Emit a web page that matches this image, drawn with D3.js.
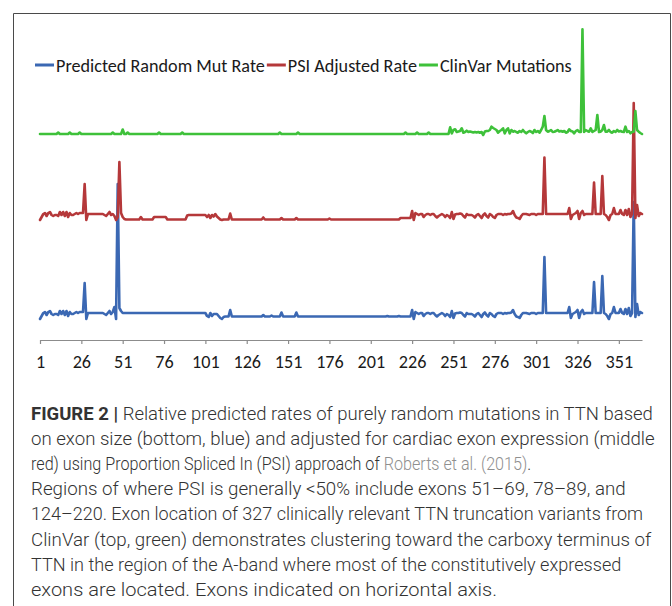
<!DOCTYPE html>
<html>
<head>
<meta charset="utf-8">
<script src="https://cdn.jsdelivr.net/npm/d3@7/dist/d3.min.js"></script>
<style>
  html, body { margin: 0; padding: 0; background: #fff; }
  svg { display: block; }
</style>
</head>
<body>
<div id="chart"></div>
<script>
// Exon ticks on the horizontal axis
const exonTicks = [1, 26, 51, 76, 101, 126, 151, 176, 201, 226, 251, 276, 301, 326, 351];
const exonCount = 365;

const seriesNames = ["Predicted Random Mut Rate", "PSI Adjusted Rate", "ClinVar Mutations"];
const seriesColors = ["#3b68b3", "#b5383a", "#3ec13a"];

// Relative rates per exon (stacked offsets as in the figure)
const predictedRate = [
  2.1,2.4,2.7,2.8,2.5, 2.8,2.9,2.6,2.5,2.6, 2.6,2.5,2.9,2.6,2.9, 2.5,2.9,2.4,2.8,2.6, 2.6,2.7,2.8,2.7,2.8,
  2.8,2.8,5.7,2.1,2.7, 2.7,2.7,2.7,2.7,2.7, 2.7,2.7,2.7,2.7,2.6, 2.5,2.7,2.9,2.6,2.8, 3.3,2.1,15.6,3.2,2.9,
  2.7,2.7,2.7,2.7,2.7, 2.7,2.7,2.7,2.7,2.7, 2.7,2.7,2.7,2.7,2.7, 2.7,2.7,2.7,2.7,2.7, 2.7,2.7,2.7,2.7,2.7,
  2.7,2.7,2.7,2.7,2.7, 2.7,2.7,2.7,2.7,2.7, 2.7,2.7,2.7,2.7,2.7, 2.7,2.7,2.7,2.7,2.7, 2.7,2.7,2.7,2.7,2.7,
  2.7,2.4,2.3,2.7,2.4, 2.6,2.6,2.6,2.4,2.2, 2.1,2.3,2.35,2.35,2.35, 3.0,2.35,2.35,2.35,2.35, 2.35,2.35,2.35,2.35,2.35,
  2.35,2.35,2.35,2.35,2.35, 2.35,2.35,2.35,2.35,2.35, 2.5,2.35,2.35,2.35,2.35, 2.45,2.35,2.35,2.35,2.35, 2.35,2.75,2.35,2.35,2.35,
  2.35,2.35,2.35,2.35,2.35, 2.75,2.35,2.35,2.35,2.35, 2.35,2.35,2.35,2.35,2.35, 2.35,2.35,2.35,2.35,2.35, 2.35,2.35,2.35,2.35,2.35,
  2.35,2.35,2.35,2.35,2.35, 2.35,2.35,2.35,2.35,2.35, 2.35,2.35,2.35,2.35,2.35, 2.35,2.35,2.35,2.35,2.35, 2.35,2.35,2.35,2.35,2.35,
  2.35,2.35,2.35,2.35,2.35, 2.35,2.35,2.35,2.35,2.35, 2.4,2.35,2.35,2.35,2.35, 2.35,2.35,2.4,2.35,2.35, 2.35,2.35,2.35,2.35,2.35,
  3.0,2.1,2.8,2.7,2.6, 2.7,2.7,2.4,2.6,2.7, 2.7,2.6,2.7,2.7,2.5, 2.35,2.5,2.6,2.7,2.6, 2.4,2.6,2.5,2.3,2.9,
  2.2,2.65,2.7,2.7,2.75, 2.7,2.5,2.35,2.7,2.6, 2.6,2.6,2.5,2.35,2.6, 2.7,2.5,2.3,2.6,2.75, 2.5,2.35,2.7,2.6,2.4,
  2.3,2.6,2.7,2.7,2.7, 2.6,2.7,2.65,2.7,2.7, 2.75,3.0,2.6,2.35,2.3, 2.2,2.5,2.7,2.7,2.7, 2.65,2.6,2.7,2.7,2.7,
  2.6,2.7,2.7,2.7,2.7, 8.3,2.7,2.7,2.7,2.7, 2.7,2.7,2.7,2.7,2.7, 2.7,2.7,2.7,2.7,2.7, 3.3,2.2,2.6,2.7,2.8,
  3.0,2.2,2.8,3.0,2.6, 2.7,2.7,2.7,2.7,2.7, 5.8,2.7,2.7,2.7,2.7, 6.4,2.7,2.6,2.4,2.1, 2.6,2.7,3.3,2.7,2.7,
  2.7,3.1,2.7,2.6,3.1, 2.6,3.2,2.4,2.7,13.8, 2.3,3.6,2.5,2.8,2.7
];

const psiAdjustedRate = [
  12.0,12.3,12.6,12.7,12.4, 12.7,12.8,12.5,12.4,12.5, 12.5,12.4,12.8,12.5,12.8, 12.4,12.8,12.3,12.7,12.5, 12.5,12.6,12.7,12.6,12.7,
  12.7,12.7,15.6,12.0,12.6, 12.6,12.6,12.6,12.6,12.6, 12.6,12.6,12.6,12.6,12.5, 12.4,12.6,12.8,12.5,12.6, 12.4,12.0,12.3,17.8,12.7,
  12.3,12.1,12.05,12.05,12.05, 12.05,12.05,12.05,12.05,12.05, 12.05,12.3,12.05,12.05,12.05, 12.05,12.05,12.05,12.05,12.3, 12.3,12.3,12.3,12.3,12.3,
  12.3,12.3,12.05,12.05,12.05, 12.05,12.05,12.05,12.05,12.05, 12.05,12.05,12.05,12.05,12.45, 12.5,12.5,12.5,12.5,12.5, 12.5,12.5,12.5,12.5,12.5,
  12.5,12.3,12.5,12.2,12.5, 12.35,12.6,12.35,12.2,12.05, 12.0,12.05,12.05,12.05,12.05, 12.65,12.05,12.05,12.05,12.05, 12.05,12.05,12.05,12.05,12.05,
  12.05,12.05,12.05,12.05,12.05, 12.05,12.05,12.05,12.05,12.05, 12.25,12.05,12.05,12.05,12.05, 12.05,12.05,12.05,12.05,12.05, 12.05,12.2,12.05,12.05,12.05,
  12.05,12.05,12.05,12.05,12.05, 12.2,12.05,12.05,12.05,12.05, 12.05,12.05,12.05,12.05,12.05, 12.05,12.05,12.05,12.05,12.05, 12.05,12.05,12.05,12.05,12.05,
  12.15,12.05,12.05,12.05,12.05, 12.05,12.05,12.05,12.05,12.05, 12.05,12.05,12.05,12.05,12.05, 12.05,12.05,12.05,12.05,12.05, 12.05,12.05,12.05,12.05,12.05,
  12.05,12.05,12.05,12.05,12.05, 12.05,12.05,12.05,12.05,12.05, 12.05,12.05,12.05,12.05,12.05, 12.05,12.05,12.05,12.2,12.2, 12.2,12.2,12.2,12.2,12.2,
  12.9,12.0,12.7,12.6,12.5, 12.6,12.6,12.3,12.5,12.6, 12.6,12.5,12.6,12.6,12.4, 12.25,12.4,12.5,12.6,12.5, 12.3,12.5,12.4,12.2,12.8,
  12.1,12.55,12.6,12.6,12.65, 12.6,12.4,12.25,12.6,12.5, 12.5,12.5,12.4,12.25,12.5, 12.6,12.4,12.2,12.5,12.65, 12.4,12.25,12.6,12.5,12.3,
  12.2,12.5,12.6,12.6,12.6, 12.5,12.6,12.55,12.6,12.6, 12.65,12.9,12.5,12.25,12.2, 12.1,12.4,12.6,12.6,12.6, 12.55,12.5,12.6,12.6,12.6,
  12.5,12.6,12.6,12.6,12.6, 18.25,12.6,12.6,12.6,12.6, 12.6,12.6,12.6,12.6,12.6, 12.6,12.6,12.6,12.6,12.6, 13.2,12.1,12.5,12.6,12.7,
  12.9,12.1,12.7,12.9,12.5, 12.6,12.6,12.6,12.6,12.6, 15.75,12.6,12.6,12.6,12.6, 16.4,12.6,12.5,12.3,12.0, 12.5,12.6,13.2,12.6,12.6,
  12.6,13.0,12.6,12.5,13.0, 12.5,13.1,12.3,12.6,23.7, 12.2,13.5,12.4,12.7,12.6
];

const clinvarMutations = [
  20.6,20.6,20.6,20.6,20.6, 20.6,20.6,20.6,20.6,20.6, 20.6,20.75,20.6,20.6,20.6, 20.6,20.6,20.6,20.75,20.6, 20.6,20.6,20.6,20.6,20.75,
  20.6,20.6,20.6,20.6,20.6, 20.6,20.6,20.6,20.6,20.6, 20.6,20.6,20.6,20.6,20.6, 20.6,20.6,20.6,20.6,20.75, 20.6,20.6,20.6,20.6,20.6,
  21.05,20.6,20.6,20.75,20.6, 20.6,20.6,20.6,20.6,20.6, 20.6,20.6,20.6,20.6,20.6, 20.6,20.6,20.6,20.6,20.6, 20.6,20.6,20.75,20.6,20.6,
  20.6,20.6,20.6,20.6,20.6, 20.6,20.6,20.6,20.6,20.6, 20.6,20.75,20.6,20.6,20.6, 20.6,20.6,20.6,20.6,20.6, 20.6,20.6,20.6,20.6,20.6,
  20.6,20.6,20.6,20.6,20.6, 20.6,20.6,20.6,20.6,20.6, 20.6,20.6,20.6,20.6,20.6, 20.6,20.6,20.6,20.6,20.6, 20.6,20.6,20.6,20.6,20.6,
  20.6,20.6,20.6,20.6,20.6, 20.6,20.6,20.6,20.6,20.6, 20.6,20.6,20.6,20.6,20.6, 20.6,20.6,20.6,20.6,20.6, 20.75,20.6,20.6,20.6,20.6,
  20.6,20.6,20.6,20.6,20.6, 20.6,20.75,20.6,20.6,20.6, 20.6,20.6,20.6,20.6,20.6, 20.6,20.6,20.6,20.6,20.6, 20.6,20.6,20.6,20.6,20.6,
  20.6,20.6,20.6,20.6,20.6, 20.6,20.6,20.6,20.6,20.6, 20.6,20.6,20.6,20.6,20.6, 20.6,20.6,20.6,20.6,20.6, 20.6,20.6,20.6,20.6,20.6,
  20.6,20.6,20.6,20.6,20.6, 20.6,20.6,20.6,20.6,20.6, 20.6,20.6,20.6,20.6,20.6, 20.6,20.6,20.6,20.6,20.6, 20.6,20.75,20.6,20.6,20.6,
  20.6,20.6,20.6,20.75,20.6, 20.6,20.6,20.6,20.6,20.6, 20.75,20.6,20.6,20.6,20.6, 20.6,20.6,20.6,20.6,20.6, 20.6,20.6,20.6,21.27,20.67,
  21.0,21.07,20.8,20.85,20.9, 21.17,20.73,20.8,20.93,20.8, 20.85,20.8,20.75,20.8,20.75, 20.8,20.73,20.8,20.5,20.85, 20.9,20.9,21.0,21.33,21.2,
  21.1,21.0,20.73,20.9,21.0, 21.17,20.67,21.0,21.17,20.67, 21.0,20.83,20.9,20.8,20.73, 20.9,20.8,21.0,20.8,20.67, 20.8,20.9,20.83,20.7,21.0,
  20.8,20.9,20.73,21.0,21.33, 22.4,21.0,20.83,20.9,21.0, 20.8,20.83,20.9,21.0,20.85, 20.9,20.83,20.9,20.73,20.8, 21.07,20.9,20.85,20.67,20.9,
  21.0,20.8,20.8,31.07,20.8, 21.0,20.9,20.83,21.17,20.8, 20.9,21.0,22.5,20.8,20.83, 21.0,21.5,20.83,20.83,21.0, 20.8,20.73,20.9,20.8,21.0,
  20.85,20.9,20.83,20.8,21.33, 20.8,20.9,20.67,20.8,20.83, 22.9,21.0,20.83,20.7,20.6
];

const captionLines = [
  [["FIGURE 2 | ", "bold"], ["Relative predicted rates of purely random mutations in TTN based", ""]],
  [["on exon size (bottom, blue) and adjusted for cardiac exon expression (middle", ""]],
  [["red) using Proportion Spliced In (PSI) approach of ", ""], ["Roberts et al. (2015)", "link"], [".", ""]],
  [["Regions of where PSI is generally <50% include exons 51–69, 78–89, and", ""]],
  [["124–220. Exon location of 327 clinically relevant TTN truncation variants from", ""]],
  [["ClinVar (top, green) demonstrates clustering toward the carboxy terminus of", ""]],
  [["TTN in the region of the A-band where most of the constitutively expressed", ""]],
  [["exons are located. Exons indicated on horizontal axis.", ""]]
];
// width each caption line takes in the figure
const captionWidths = [622, 624, 500, 595, 612, 621, 590, 466];

const width = 672, height = 606;
const chartFont = "Carlito, Calibri, Lato, sans-serif";
const captionFont = "'Helvetica Neue', Roboto, 'Liberation Sans', sans-serif";

const svg = d3.select("#chart").append("svg")
  .attr("width", width)
  .attr("height", height);

// Figure frame
svg.append("path")
  .attr("d", "M13.5,606V13.5H670.5V606")
  .attr("fill", "none")
  .attr("stroke", "#4a4a4a")
  .attr("stroke-width", 1);

const x = d3.scaleLinear().domain([1, exonCount]).range([40, 642]);
const y = d3.scaleLinear().domain([0, 31.1]).range([340, 29]);

// shrink/grow a text node's font so it spans a given width
function fitText(sel, target, base) {
  sel.style("font-size", base + "px");
  const w = sel.node().getBBox().width;
  const size = base * target / w;
  sel.style("font-size", size + "px");
  return size;
}

// Legend
const legend = svg.append("g").attr("class", "legend");
const probe = legend.append("text")
  .attr("font-family", chartFont)
  .text(seriesNames[0]);
const chartFontSize = fitText(probe, 209, 18);
probe.remove();

let lx = 35;
seriesNames.forEach((name, i) => {
  legend.append("line")
    .attr("x1", lx).attr("x2", lx + 19)
    .attr("y1", 65).attr("y2", 65)
    .attr("stroke", seriesColors[i])
    .attr("stroke-width", 3);
  const t = legend.append("text")
    .attr("x", lx + 21)
    .attr("y", 71.5)
    .attr("font-family", chartFont)
    .style("font-size", chartFontSize + "px")
    .attr("fill", "#1a1a1a")
    .text(name);
  lx += 21 + t.node().getBBox().width + 2;
});

// Axis
const xAxis = d3.axisBottom(x)
  .tickValues(exonTicks)
  .tickSize(4)
  .tickSizeOuter(0)
  .tickPadding(11)
  .tickFormat(d3.format("d"));

const axisG = svg.append("g")
  .attr("transform", "translate(0,340)")
  .call(xAxis);
axisG.select(".domain").attr("stroke", "#8c8c8c").attr("stroke-width", 1.2);
axisG.selectAll(".tick line").attr("stroke", "#8c8c8c").attr("stroke-width", 1.2);
axisG.selectAll(".tick text")
  .attr("font-family", chartFont)
  .style("font-size", chartFontSize + "px")
  .attr("fill", "#1a1a1a");

// Series lines
const line = d3.line()
  .x((d, i) => x(i + 1))
  .y(d => y(d));

const series = [predictedRate, psiAdjustedRate, clinvarMutations];
svg.append("g")
  .selectAll("path")
  .data(series)
  .join("path")
  .attr("d", d => line(d))
  .attr("fill", "none")
  .attr("stroke", (d, i) => seriesColors[i])
  .attr("stroke-width", 2.6)
  .attr("stroke-linejoin", "round")
  .attr("stroke-linecap", "round");

// Caption
const cap = svg.append("g").attr("class", "caption");
const capProbe = cap.append("text")
  .attr("font-family", captionFont)
  .attr("font-weight", 300)
  .text(captionLines[1][0][0]);
const capSize = fitText(capProbe, 624, 17);
capProbe.remove();

captionLines.forEach((parts, i) => {
  const row = cap.append("g");
  const t = row.append("text")
    .attr("x", 0)
    .attr("y", 0)
    .attr("font-family", captionFont)
    .style("font-size", capSize + "px");
  parts.forEach(([txt, kind]) => {
    t.append("tspan")
      .attr("font-weight", kind === "bold" ? 700 : 300)
      .attr("fill", kind === "link" ? "#8f8f8f" : "#333")
      .text(txt);
  });
  // stretch the row horizontally to the measured line width
  const k = captionWidths[i] / t.node().getBBox().width;
  row.attr("transform", `translate(31,${420 + i * 25.1}) scale(${k},1)`);
});
</script>
</body>
</html>
